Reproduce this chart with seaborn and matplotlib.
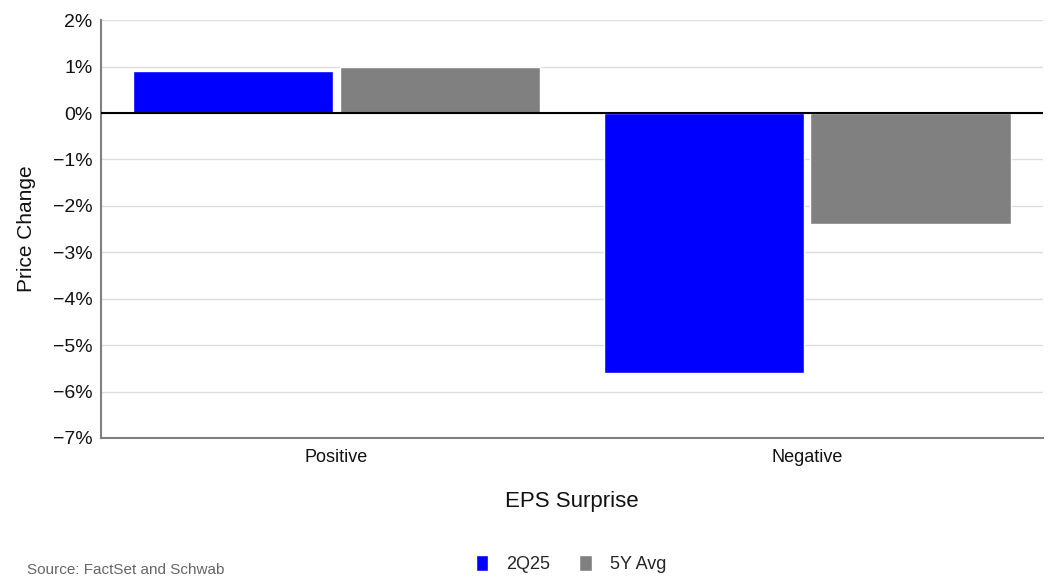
import matplotlib
matplotlib.use("Agg")
import matplotlib.pyplot as plt
import seaborn as sns
import pandas as pd
from matplotlib.ticker import FuncFormatter

categories = ["Positive", "Negative"]
series_names = ["2Q25", "5Y Avg"]
values_2q25 = [0.9, -5.6]
values_5y = [1.0, -2.4]
colors = ["#0000FF", "#808080"]

df = pd.DataFrame({
    "EPS Surprise": categories * 2,
    "Series": [series_names[0]] * 2 + [series_names[1]] * 2,
    "Price Change": values_2q25 + values_5y,
})

sns.set_theme(style="white")
plt.rcParams["font.family"] = ["Liberation Sans", "DejaVu Sans"]

fig = plt.figure(figsize=(10.48, 5.77), dpi=100)
ax = fig.add_axes([0.0964, 0.241, 0.8986, 0.724])

sns.barplot(data=df, x="EPS Surprise", y="Price Change", hue="Series",
            order=categories, hue_order=series_names, palette=colors,
            width=0.877, gap=0.03, ax=ax, legend=True, saturation=1)

ax.set_xlim(-0.5, 1.5)
ax.set_ylim(-7, 2)
ax.set_yticks(range(-7, 3))
ax.yaxis.set_major_formatter(FuncFormatter(lambda v, p: f"{int(v)}%".replace("-", "\u2212")))
ax.grid(axis="y", color="#dddddd", linewidth=1)
ax.set_axisbelow(True)
ax.axhline(0, color="black", linewidth=1.5, zorder=3)
for s in ["top", "right"]:
    ax.spines[s].set_visible(False)
for s in ["left", "bottom"]:
    ax.spines[s].set_color("#808080")
    ax.spines[s].set_linewidth(1.5)
ax.tick_params(axis="y", length=0, labelsize=14, colors="#111111", pad=6)
ax.tick_params(axis="x", length=0, labelsize=13, colors="#111111", pad=8)
ax.set_xlabel("EPS Surprise", fontsize=16, labelpad=18, color="#111111")
ax.set_ylabel("Price Change", fontsize=15, labelpad=12, color="#111111")

handles, labels = ax.get_legend_handles_labels()
ax.get_legend().remove()
fig.legend(handles, labels, loc="center", bbox_to_anchor=(0.545, 0.022), ncol=2,
           frameon=False, fontsize=13, handlelength=0.7, handleheight=1.0,
           columnspacing=1.6, handletextpad=1.0, borderaxespad=0)

fig.text(0.026, 0.0, "Source: FactSet and Schwab", fontsize=11, color="#666666", va="bottom")

fig.savefig("out.png", dpi=100)
